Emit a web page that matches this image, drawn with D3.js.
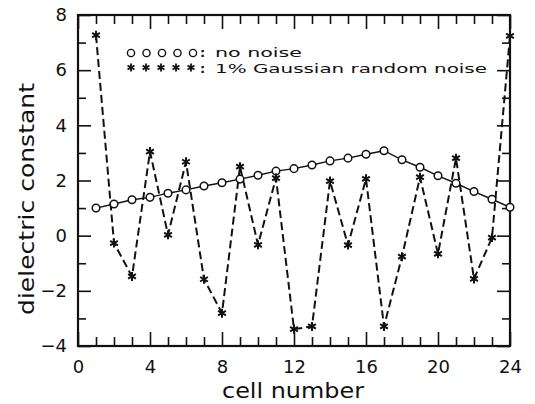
<!DOCTYPE html>
<html>
<head>
<meta charset="utf-8">
<script src="https://cdn.jsdelivr.net/npm/d3@7"></script>
<style>
  body { margin: 0; background: #fff; }
  svg { display: block; }
  text { font-family: "DejaVu Sans", sans-serif; fill: #111; }
</style>
</head>
<body>
<div id="chart"></div>
<script>
// cell numbers and the two reconstructed profiles
var cells = [1, 2, 3, 4, 5, 6, 7, 8, 9, 10, 11, 12, 13, 14, 15, 16, 17, 18, 19, 20, 21, 22, 23, 24];
var noNoise = [1.00, 1.15, 1.30, 1.39, 1.54, 1.66, 1.80, 1.92, 2.05, 2.19, 2.34, 2.43,
               2.56, 2.71, 2.81, 2.95, 3.08, 2.75, 2.48, 2.17, 1.90, 1.60, 1.32, 1.03];
var noisy = [7.27, -0.27, -1.48, 3.05, 0.03, 2.68, -1.58, -2.81, 2.50, -0.33, 2.09, -3.39,
             -3.29, 1.98, -0.34, 2.06, -3.29, -0.76, 2.12, -0.66, 2.81, -1.57, -0.07, 7.24];

var xMajor = [0, 4, 8, 12, 16, 20, 24];
var xMinor = [1, 2, 3, 5, 6, 7, 9, 10, 11, 13, 14, 15, 17, 18, 19, 21, 22, 23];
var yMajor = [-4, -2, 0, 2, 4, 6, 8];
var yMinor = [-3, -1, 1, 3, 5, 7];

var legendLabels = ['no noise', '1% Gaussian random noise'];

var width = 535, height = 404;
var margin = {top: 15, right: 25, bottom: 58, left: 78};

var svg = d3.select('#chart').append('svg')
  .attr('width', width)
  .attr('height', height);

var x = d3.scaleLinear().domain([0, 24]).range([margin.left, width - margin.right]);
var y = d3.scaleLinear().domain([-4, 8]).range([height - margin.bottom, margin.top]);

var fmt = d3.format('d');

var bottomY = y(-4), topY = y(8), leftX = x(0), rightX = x(24);

// frame first, ticks on top of it
svg.append('rect')
  .attr('x', leftX)
  .attr('y', topY)
  .attr('width', rightX - leftX)
  .attr('height', bottomY - topY)
  .attr('fill', 'none')
  .attr('stroke', '#111')
  .attr('stroke-width', 2.2);

function drawAxis(axis, transform, labels) {
  var g = svg.append('g').attr('transform', transform).call(axis);
  g.select('.domain').remove();
  g.selectAll('.tick line').attr('stroke', '#111').attr('stroke-width', 1.6);
  g.selectAll('.tick text').style('font-size', '18px');
  if (!labels) g.selectAll('.tick text').remove();
  return g;
}

drawAxis(d3.axisBottom(x).tickValues(xMajor).tickSize(-14).tickPadding(14).tickFormat(fmt),
  'translate(0,' + bottomY + ')', true);
drawAxis(d3.axisBottom(x).tickValues(xMinor).tickSize(-9).tickFormat(''),
  'translate(0,' + bottomY + ')', false);
drawAxis(d3.axisTop(x).tickValues(xMajor).tickSize(-14).tickFormat(''),
  'translate(0,' + topY + ')', false);
drawAxis(d3.axisTop(x).tickValues(xMinor).tickSize(-9).tickFormat(''),
  'translate(0,' + topY + ')', false);
drawAxis(d3.axisLeft(y).tickValues(yMajor).tickSize(-13).tickPadding(11).tickFormat(fmt),
  'translate(' + leftX + ',0)', true);
drawAxis(d3.axisLeft(y).tickValues(yMinor).tickSize(-8).tickFormat(''),
  'translate(' + leftX + ',0)', false);
drawAxis(d3.axisRight(y).tickValues(yMajor).tickSize(-13).tickFormat(''),
  'translate(' + rightX + ',0)', false);
drawAxis(d3.axisRight(y).tickValues(yMinor).tickSize(-8).tickFormat(''),
  'translate(' + rightX + ',0)', false);

function starPath(r) {
  var p = '';
  [90, 30, -30].forEach(function (a) {
    var t = a * Math.PI / 180, dx = r * Math.cos(t), dy = r * Math.sin(t);
    p += 'M' + (-dx) + ',' + (-dy) + 'L' + dx + ',' + dy;
  });
  return p;
}

var line = d3.line()
  .x(function (d) { return x(d[0]); })
  .y(function (d) { return y(d[1]); });

var noisyPts = d3.zip(cells, noisy);
var cleanPts = d3.zip(cells, noNoise);

svg.append('path')
  .datum(noisyPts)
  .attr('d', line)
  .attr('fill', 'none')
  .attr('stroke', '#111')
  .attr('stroke-width', 2)
  .attr('stroke-dasharray', '8,4');

svg.append('path')
  .datum(cleanPts)
  .attr('d', line)
  .attr('fill', 'none')
  .attr('stroke', '#111')
  .attr('stroke-width', 1.4);

svg.append('g').selectAll('circle')
  .data(cleanPts)
  .join('circle')
  .attr('cx', function (d) { return x(d[0]); })
  .attr('cy', function (d) { return y(d[1]); })
  .attr('r', 3.8)
  .attr('fill', '#fff')
  .attr('stroke', '#111')
  .attr('stroke-width', 1.5);

svg.append('g').selectAll('path')
  .data(noisyPts)
  .join('path')
  .attr('transform', function (d) { return 'translate(' + x(d[0]) + ',' + y(d[1]) + ')'; })
  .attr('d', starPath(4.5))
  .attr('stroke', '#111')
  .attr('stroke-width', 2);

// legend
var legend = svg.append('g');
[0, 1, 2, 3, 4].forEach(function (i) {
  legend.append('circle')
    .attr('cx', 131 + i * 15.5)
    .attr('cy', 53)
    .attr('r', 3.6)
    .attr('fill', '#fff')
    .attr('stroke', '#111')
    .attr('stroke-width', 1.4);
  legend.append('path')
    .attr('transform', 'translate(' + (131 + i * 15) + ',67.5)')
    .attr('d', starPath(4))
    .attr('stroke', '#111')
    .attr('stroke-width', 1.8);
});
[57, 72.5].forEach(function (yy, i) {
  legend.append('text')
    .attr('x', 200)
    .attr('y', yy)
    .style('font-size', '13px')
    .style('font-weight', 'bold')
    .text(':');
  legend.append('text')
    .attr('x', 215)
    .attr('y', yy)
    .attr('textLength', i === 0 ? 87 : 272)
    .attr('lengthAdjust', 'spacingAndGlyphs')
    .style('font-size', '13px')
    .text(legendLabels[i]);
});

// axis titles
svg.append('text')
  .attr('x', 222)
  .attr('y', 398)
  .attr('textLength', 142)
  .attr('lengthAdjust', 'spacingAndGlyphs')
  .style('font-size', '21px')
  .text('cell number');

svg.append('text')
  .attr('transform', 'translate(34,199) rotate(-90)')
  .attr('text-anchor', 'middle')
  .attr('textLength', 232)
  .attr('lengthAdjust', 'spacingAndGlyphs')
  .style('font-size', '21px')
  .text('dielectric constant');
</script>
</body>
</html>
